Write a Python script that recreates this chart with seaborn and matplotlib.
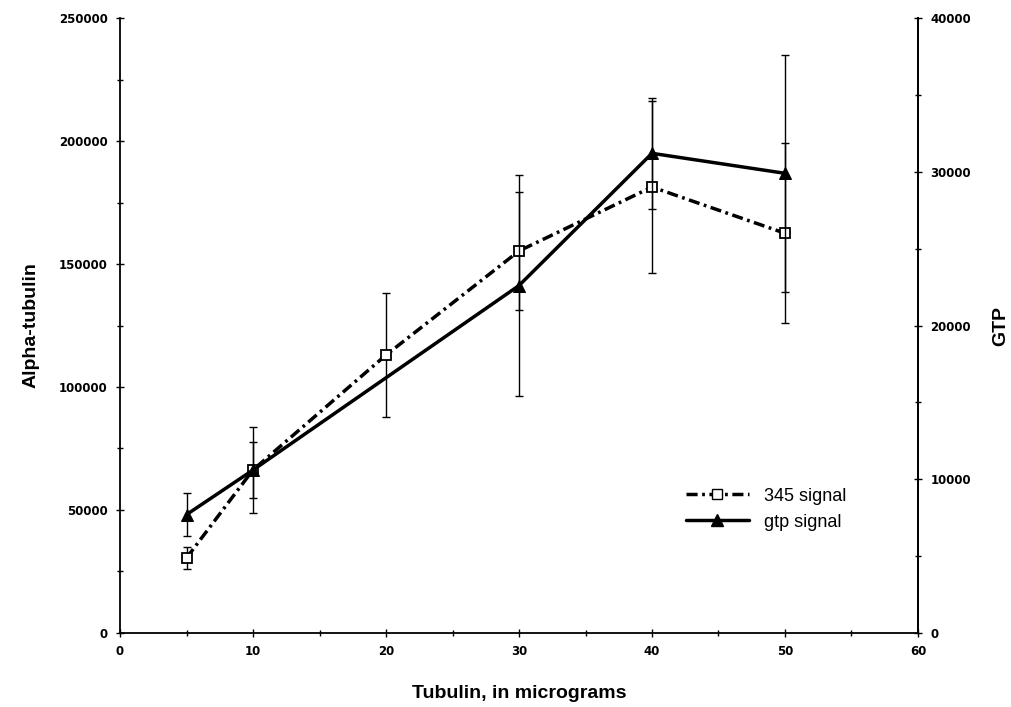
import matplotlib
matplotlib.use("Agg")
import matplotlib.pyplot as plt
import seaborn as sns
import pandas as pd
from matplotlib.lines import Line2D
from matplotlib.ticker import MultipleLocator

# values
x_345 = [5, 10, 20, 30, 40, 50]
signal_345 = [30500, 66300, 113000, 155300, 181300, 162500]
err_345 = [4300, 17500, 25200, 24000, 35000, 36500]

x_gtp = [5, 10, 30, 40, 50]
signal_gtp = [7700, 10600, 22600, 31200, 29900]
err_gtp = [1400, 1800, 7200, 3600, 7700]

sns.set_style("ticks")
plt.rcParams['font.family'] = ['Liberation Sans', 'DejaVu Sans']
plt.rcParams['text.color'] = 'black'
plt.rcParams['axes.labelcolor'] = 'black'
plt.rcParams['xtick.color'] = 'black'
plt.rcParams['ytick.color'] = 'black'
plt.rcParams['axes.edgecolor'] = 'black'

fig = plt.figure(figsize=(10.12, 7.07), dpi=100)
ax = fig.add_axes([0.1186, 0.1047, 0.7885, 0.8698])
ax2 = ax.twinx()

dash = (3.2, 1.3, 0.8, 1.3)

df1 = pd.DataFrame({'x': x_345, 'y': signal_345})
df2 = pd.DataFrame({'x': x_gtp, 'y': signal_gtp})

ax.errorbar(x_345, signal_345, yerr=err_345, fmt='none', ecolor='black',
            elinewidth=1, capsize=3, capthick=1, zorder=2)
sns.lineplot(data=df1, x='x', y='y', ax=ax, color='black', linewidth=2.5,
             dashes=False, zorder=3)
ax.lines[-1].set_dashes(dash)
ax.plot(x_345, signal_345, linestyle='none', marker='s', markersize=7,
        markerfacecolor='white', markeredgecolor='black', markeredgewidth=1.3,
        zorder=4)

ax2.errorbar(x_gtp, signal_gtp, yerr=err_gtp, fmt='none', ecolor='black',
             elinewidth=1, capsize=3, capthick=1, zorder=2)
sns.lineplot(data=df2, x='x', y='y', ax=ax2, color='black', linewidth=2.5,
             marker='^', markersize=9, markeredgecolor='black', zorder=3)

ax.set_xlim(0, 60)
ax.set_ylim(0, 250000)
ax2.set_ylim(0, 40000)

ax.xaxis.set_major_locator(MultipleLocator(10))
ax.xaxis.set_minor_locator(MultipleLocator(5))
ax.yaxis.set_major_locator(MultipleLocator(50000))
ax.yaxis.set_minor_locator(MultipleLocator(25000))
ax2.yaxis.set_major_locator(MultipleLocator(10000))
ax2.yaxis.set_minor_locator(MultipleLocator(5000))

for a in (ax, ax2):
    a.spines['top'].set_visible(False)
    for s in a.spines.values():
        s.set_linewidth(1.3)
        s.set_color('black')
    a.tick_params(which='both', width=1, direction='inout', colors='black')
    a.tick_params(which='major', length=6, pad=6)
    a.tick_params(which='minor', length=4)
    for lab in a.get_xticklabels() + a.get_yticklabels():
        lab.set_family(['DejaVu Sans'])
        lab.set_fontweight('bold')
        lab.set_fontsize(8.5)
ax2.spines['left'].set_visible(False)
ax2.spines['bottom'].set_visible(False)

ax.set_xlabel('Tubulin, in micrograms', fontsize=14, fontweight='bold', labelpad=19)
ax.set_ylabel('Alpha-tubulin', fontsize=14, fontweight='bold', labelpad=14)
ax2.set_ylabel('GTP', fontsize=14, fontweight='bold', labelpad=15)

handles = [
    Line2D([], [], color='black', linewidth=2.5, dashes=dash, marker='s',
           markersize=7, markerfacecolor='white', markeredgecolor='black'),
    Line2D([], [], color='black', linewidth=2.5, marker='^', markersize=9),
]
leg = ax2.legend(handles, ['345 signal', 'gtp signal'], loc='lower right',
                 bbox_to_anchor=(0.93, 0.14), frameon=False, fontsize=13,
                 handlelength=3.5)
for t in leg.get_texts():
    t.set_color('black')

fig.savefig('out.png', dpi=100)
